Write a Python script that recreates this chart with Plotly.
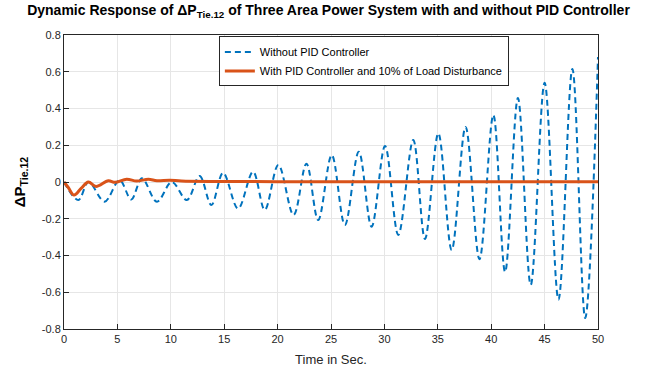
import plotly.graph_objects as go

# Without PID controller (peaks/troughs)
t_without = [0, 1.34, 2.3, 3.8, 5.2, 6.3, 7.3, 8.7, 10.1, 11.5, 12.7, 13.8, 14.9, 16.3,
             17.7, 18.8, 20.07, 21.5, 22.7, 23.8, 25.07, 26.3, 27.6, 28.8, 30.06, 31.3,
             32.7, 33.8, 35.05, 36.3, 37.6, 38.9, 40.2, 41.3, 42.5, 43.7, 45.0, 46.3,
             47.6, 48.8, 50]
v_without = [0, -0.098, 0.0, -0.107, 0.01, -0.095, 0.02, -0.107, 0.0, -0.098, 0.033,
             -0.125, 0.05, -0.145, 0.056, -0.152, 0.093, -0.18, 0.10, -0.207, 0.147,
             -0.234, 0.165, -0.243, 0.196, -0.288, 0.229, -0.31, 0.265, -0.37, 0.30,
             -0.42, 0.365, -0.49, 0.457, -0.56, 0.54, -0.64, 0.615, -0.74, 0.68]

# With PID controller and 10% load disturbance
t_with = [0, 0.4, 0.94, 1.6, 2.28, 3.0, 4.15, 4.78, 5.87, 6.8, 7.9, 8.7, 9.9, 11, 15, 20, 30, 40, 50]
v_with = [0, -0.03, -0.071, -0.035, 0.0, -0.024, 0.007, -0.002, 0.015, 0.005, 0.015, 0.007,
          0.01, 0.005, 0.003, 0.002, 0.002, 0.002, 0.002]

x_ticks = [0, 5, 10, 15, 20, 25, 30, 35, 40, 45, 50]
y_ticks = [-0.8, -0.6, -0.4, -0.2, 0, 0.2, 0.4, 0.6, 0.8]
y_tick_text = ["-0.8", "-0.6", "-0.4", "-0.2", "0", "0.2", "0.4", "0.6", "0.8"]

FONT = "Liberation Sans, Arial, Helvetica, sans-serif"

fig = go.Figure()
fig.add_trace(go.Scatter(
    x=t_without, y=v_without, mode="lines", name="Without PID Controller",
    line=dict(color="#0072BD", width=2, dash="6px,4px", shape="spline", smoothing=1.0),
))
fig.add_trace(go.Scatter(
    x=t_with, y=v_with, mode="lines", name="With PID Controller and 10% of Load Disturbance",
    line=dict(color="#D95319", width=3, shape="spline", smoothing=1.0),
))

axis_common = dict(
    showline=True, linecolor="#262626", linewidth=1, mirror=True,
    ticks="inside", ticklen=5, tickcolor="#262626",
    showgrid=True, gridcolor="#e6e6e6", gridwidth=1, zeroline=False,
    tickfont=dict(family=FONT, size=11, color="#262626"),
    automargin=False,
)

fig.update_layout(
    width=657, height=370,
    margin=dict(l=64, r=59, t=35, b=41),
    paper_bgcolor="white", plot_bgcolor="white",
    title=dict(
        text="<b>Dynamic Response of ΔP<sub>Tie.12</sub> of Three Area Power System with and without PID Controller</b>",
        x=0.5, xanchor="center", y=0.985, yanchor="top",
        font=dict(family=FONT, size=14, color="black"),
    ),
    xaxis=dict(range=[0, 50], tickvals=x_ticks, **axis_common,
               title=dict(text="Time in Sec.", font=dict(family=FONT, size=13, color="#262626"), standoff=10)),
    yaxis=dict(range=[-0.8, 0.8], tickvals=y_ticks, ticktext=y_tick_text, **axis_common,
               title=dict(text="<b>ΔP<sub>Tie.12</sub></b>", font=dict(family=FONT, size=15, color="black"), standoff=12)),
    legend=dict(
        x=0.29, y=0.995, xanchor="left", yanchor="top",
        bgcolor="white", bordercolor="#262626", borderwidth=1,
        font=dict(family=FONT, size=11, color="black"),
        tracegroupgap=0, itemwidth=30,
    ),
    showlegend=True,
)

fig.write_html("out.html")
